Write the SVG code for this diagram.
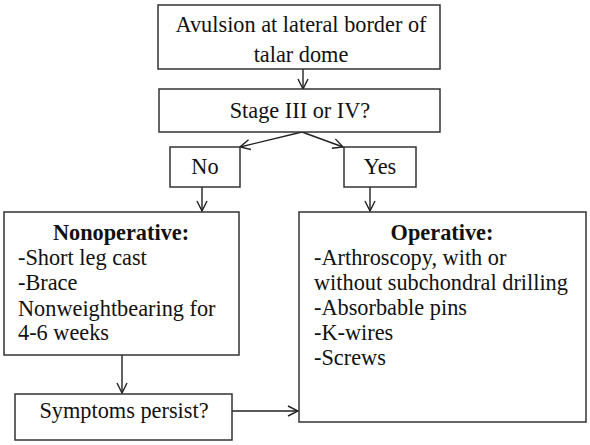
<svg xmlns="http://www.w3.org/2000/svg" width="590" height="445" viewBox="0 0 590 445">
<defs>
<marker id="arr" viewBox="0 0 12 12" refX="11" refY="6" markerWidth="12" markerHeight="12" markerUnits="userSpaceOnUse" orient="auto">
<path d="M1,1 L11,6 L1,11" fill="none" stroke="#222" stroke-width="1.4"/>
</marker>
</defs>
<style>
rect{fill:#fff;stroke:#333;stroke-width:1.5}
text{font-family:"Liberation Serif","Times New Roman",serif;font-size:22.3px;fill:#111}
.c{text-anchor:middle}
.b{font-weight:bold}
#connectors line{stroke:#222;stroke-width:1.4;marker-end:url(#arr)}
</style>
<rect x="0" y="0" width="590" height="445" style="stroke:none"/>
<g id="connectors">
<line x1="303" y1="69" x2="303" y2="89"/>
<line x1="302" y1="132" x2="240" y2="147"/>
<line x1="302" y1="132" x2="343" y2="147"/>
<line x1="202" y1="187" x2="202" y2="211"/>
<line x1="370" y1="187" x2="370" y2="211"/>
<line x1="122" y1="355" x2="122" y2="393"/>
<line x1="232" y1="411" x2="298" y2="411"/>
</g>
<g id="top">
<rect x="158" y="5" width="282" height="64"/>
<text class="c" x="301" y="32">Avulsion at lateral border of</text>
<text class="c" x="301" y="62">talar dome</text>
</g>
<g id="stage">
<rect x="159" y="89" width="281" height="43"/>
<text class="c" x="300" y="118">Stage III or IV?</text>
</g>
<g id="no">
<rect x="170" y="147" width="70" height="40"/>
<text class="c" x="205" y="174">No</text>
</g>
<g id="yes">
<rect x="344" y="147" width="72" height="40"/>
<text class="c" x="380" y="174">Yes</text>
</g>
<g id="nonoperative">
<rect x="4" y="212" width="235" height="143"/>
<text class="c b" x="121" y="240">Nonoperative:</text>
<text x="18" y="265">-Short leg cast</text>
<text x="18" y="290">-Brace</text>
<text x="18" y="316">Nonweightbearing for</text>
<text x="18" y="340">4-6 weeks</text>
</g>
<g id="operative">
<rect x="299" y="212" width="287" height="210"/>
<text class="c b" x="442" y="240">Operative:</text>
<text x="314" y="265">-Arthroscopy, with or</text>
<text x="314" y="290">without subchondral drilling</text>
<text x="314" y="315">-Absorbable pins</text>
<text x="314" y="340">-K-wires</text>
<text x="314" y="365">-Screws</text>
</g>
<g id="symptoms">
<rect x="15" y="394" width="217" height="46"/>
<text class="c" x="124" y="418">Symptoms persist?</text>
</g>
</svg>
